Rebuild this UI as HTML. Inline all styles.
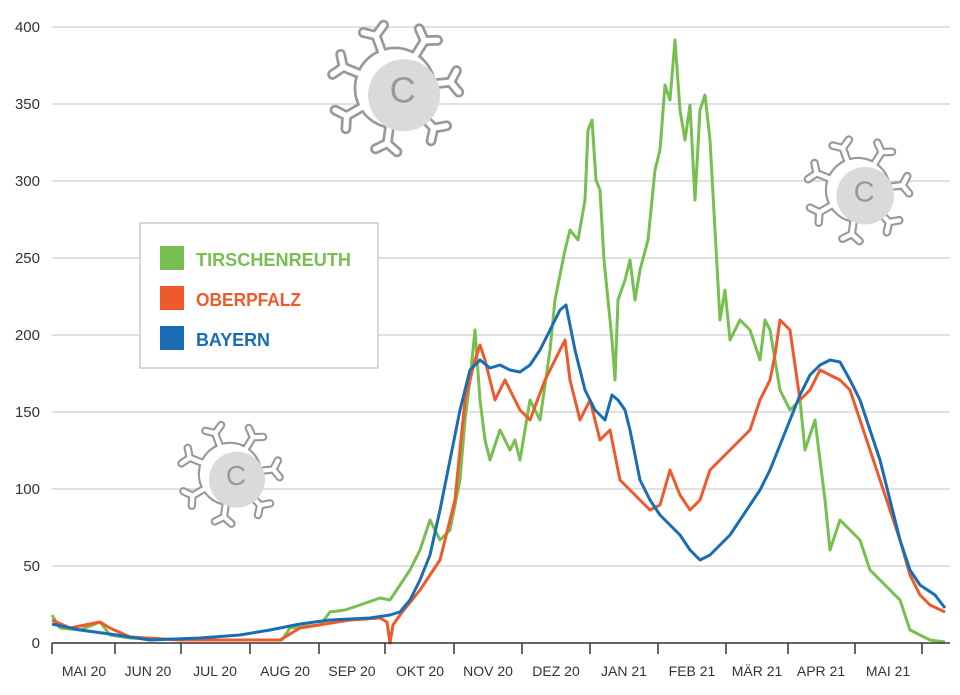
<!DOCTYPE html>
<html><head><meta charset="utf-8"><style>
html,body{margin:0;padding:0;background:#fff;}
svg{display:block;font-family:"Liberation Sans",sans-serif;}
</style></head><body>
<svg width="960" height="695" viewBox="0 0 960 695">
<defs>
<g id="spk">
  <line x1="0" y1="0" x2="0" y2="-62"/>
  <line x1="-12" y1="-70" x2="0" y2="-62"/>
  <line x1="12" y1="-70" x2="0" y2="-62"/>
</g>
<g id="spks">
    <use href="#spk" transform="rotate(-20)"/><use href="#spk" transform="rotate(32)"/>
    <use href="#spk" transform="rotate(84)"/><use href="#spk" transform="rotate(136)"/>
    <use href="#spk" transform="rotate(188)"/><use href="#spk" transform="rotate(240)"/>
    <use href="#spk" transform="rotate(292)"/>
</g>
<g id="virus">
  <g stroke="#999" stroke-width="12" stroke-linecap="round" fill="none">
    <use href="#spks"/>
    <circle r="40"/>
  </g>
  <g stroke="#fff" stroke-width="6" stroke-linecap="round" fill="none">
    <use href="#spks"/>
  </g>
  <circle r="43" fill="#fff"/>
  <circle cx="10" cy="8" r="40" fill="#dadada"/>
  <text x="-6" y="16" font-size="40" fill="#999">C</text>
</g>
</defs>
<g stroke="#cfcfcf" stroke-width="1.3">
<line x1="52" x2="950" y1="27" y2="27"/><line x1="52" x2="950" y1="104" y2="104"/>
<line x1="52" x2="950" y1="181" y2="181"/><line x1="52" x2="950" y1="258" y2="258"/>
<line x1="52" x2="950" y1="335" y2="335"/><line x1="52" x2="950" y1="412" y2="412"/>
<line x1="52" x2="950" y1="489" y2="489"/><line x1="52" x2="950" y1="566" y2="566"/>
</g>
<g font-size="15" fill="#333" text-anchor="end">
<text x="40" y="32">400</text><text x="40" y="109">350</text><text x="40" y="186">300</text>
<text x="40" y="263">250</text><text x="40" y="340">200</text><text x="40" y="417">150</text>
<text x="40" y="494">100</text><text x="40" y="571">50</text><text x="40" y="648">0</text>
</g>
<use href="#virus" transform="translate(395,88) scale(0.9)"/>
<use href="#virus" transform="translate(858,190) scale(0.72)"/>
<use href="#virus" transform="translate(230,474) scale(0.7)"/>
<rect x="140" y="223" width="238" height="145" fill="#fff" stroke="#ccc" stroke-width="1.5"/>
<rect x="160" y="246" width="24" height="24" fill="#77bf4f"/>
<rect x="160" y="286" width="24" height="24" fill="#ee5a2a"/>
<rect x="160" y="326" width="24" height="24" fill="#1a6db5"/>
<g font-size="18" font-weight="bold">
<text x="196" y="266" fill="#77bf4f" textLength="155" lengthAdjust="spacingAndGlyphs">TIRSCHENREUTH</text>
<text x="196" y="306" fill="#ee5a2a" textLength="105" lengthAdjust="spacingAndGlyphs">OBERPFALZ</text>
<text x="196" y="346" fill="#1a6db5" textLength="74" lengthAdjust="spacingAndGlyphs">BAYERN</text>
</g>
<g fill="none" stroke-width="3" stroke-linejoin="round">
<polyline stroke="#77bf4f" points="52,615 60,628 80,630 100,622 110,635 130,638 200,640 240,640 282,640 290,628 320,625 330,612 345,610 360,605 380,598 390,600 400,585 410,570 420,550 430,520 440,540 450,530 460,480 465,420 470,380 475,330 480,400 485,440 490,460 500,430 510,450 515,440 520,460 530,400 540,420 550,350 555,300 565,250 570,230 578,240 585,200 588,130 592,120 596,180 600,190 604,260 608,300 612,340 615,380 618,300 625,280 630,260 635,300 640,270 648,240 655,170 660,150 665,85 670,100 675,40 680,110 685,140 690,105 695,200 700,110 705,95 710,140 715,230 720,320 725,290 730,340 740,320 750,330 760,360 765,320 770,330 780,390 790,410 800,400 805,450 815,420 825,500 830,550 840,520 850,530 860,540 870,570 880,580 890,590 900,600 910,630 920,635 930,640 945,642"/>
<polyline stroke="#ee5a2a" points="52,620 70,628 100,622 110,628 130,637 180,640 280,640 300,628 350,620 380,618 387,622 390,643 393,625 400,615 420,590 440,560 455,500 465,400 475,360 480,345 485,360 495,400 505,380 510,390 520,410 530,420 545,380 555,360 565,340 570,380 580,420 590,400 600,440 610,430 620,480 630,490 640,500 650,510 660,505 670,470 680,495 690,510 700,500 710,470 720,460 730,450 740,440 750,430 760,400 770,380 775,355 780,320 790,330 800,400 810,390 820,370 830,375 840,380 850,390 860,420 870,450 880,480 890,510 900,540 910,575 920,595 930,605 945,612"/>
<polyline stroke="#1a6db5" points="52,624 80,630 110,634 150,640 200,638 240,635 270,630 300,624 330,620 370,618 390,615 400,612 410,600 420,580 430,555 440,510 450,460 460,410 470,370 480,360 490,368 500,365 510,370 520,372 530,365 540,350 550,330 560,310 566,305 575,350 585,390 595,410 605,420 612,395 618,400 625,410 630,430 640,480 650,500 660,515 670,525 680,535 690,550 700,560 710,555 720,545 730,535 740,520 750,505 760,490 770,470 780,445 790,420 800,395 810,375 820,365 830,360 840,362 850,380 860,400 870,430 880,460 890,500 900,540 910,570 920,585 935,595 945,608"/>
</g>
<g stroke="#333" stroke-width="1.5">
<line x1="52" x2="950" y1="643" y2="643"/>
<line x1="52" x2="52" y1="643" y2="654"/><line x1="115" x2="115" y1="643" y2="654"/>
<line x1="181" x2="181" y1="643" y2="654"/><line x1="250" x2="250" y1="643" y2="654"/>
<line x1="319" x2="319" y1="643" y2="654"/><line x1="385" x2="385" y1="643" y2="654"/>
<line x1="454" x2="454" y1="643" y2="654"/><line x1="522" x2="522" y1="643" y2="654"/>
<line x1="590" x2="590" y1="643" y2="654"/><line x1="658" x2="658" y1="643" y2="654"/>
<line x1="726" x2="726" y1="643" y2="654"/><line x1="788" x2="788" y1="643" y2="654"/>
<line x1="855" x2="855" y1="643" y2="654"/><line x1="922" x2="922" y1="643" y2="654"/>
</g>
<g font-size="14" fill="#333" text-anchor="middle">
<text x="84" y="676">MAI 20</text><text x="148" y="676">JUN 20</text><text x="215" y="676">JUL 20</text>
<text x="285" y="676">AUG 20</text><text x="352" y="676">SEP 20</text><text x="420" y="676">OKT 20</text>
<text x="488" y="676">NOV 20</text><text x="556" y="676">DEZ 20</text><text x="624" y="676">JAN 21</text>
<text x="692" y="676">FEB 21</text><text x="757" y="676">MÄR 21</text><text x="821" y="676">APR 21</text>
<text x="888" y="676">MAI 21</text>
</g>
</svg>
</body></html>
